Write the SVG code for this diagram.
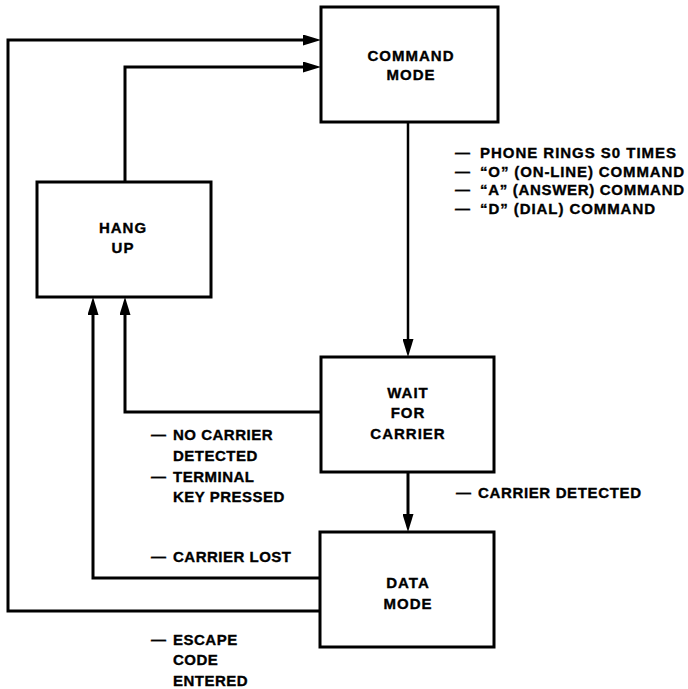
<svg xmlns="http://www.w3.org/2000/svg" width="688" height="689" viewBox="0 0 688 689">
<style>
.box{fill:#fff;stroke:#000;stroke-width:3}
.ln{fill:none;stroke:#000;stroke-width:3}
text{font-family:"Liberation Sans",Arial,Helvetica,sans-serif;font-weight:bold;font-size:15px;letter-spacing:1px;fill:#000;stroke:#000;stroke-width:0.35px}
.c{text-anchor:middle}
.l{letter-spacing:0.5px}
</style>
<defs>
<marker id="ah" viewBox="0 0 18 11" refX="8" refY="5.5" markerWidth="18" markerHeight="11" markerUnits="userSpaceOnUse" orient="auto">
<path d="M0,0 L18,5.5 L0,11 z" fill="#000"/>
</marker>
</defs>
<rect width="688" height="689" fill="#fff"/>
<g id="connectors">
<path class="ln" d="M320,611 H8 V40 H311" marker-end="url(#ah)"/>
<path class="ln" d="M125,182 V67 H311" marker-end="url(#ah)"/>
<path class="ln" d="M321,412 H125 V307" marker-end="url(#ah)"/>
<path class="ln" d="M320,578 H93 V307" marker-end="url(#ah)"/>
<path class="ln" style="stroke-width:2.5" d="M408,122 V347" marker-end="url(#ah)"/>
<path class="ln" d="M408,472 V522" marker-end="url(#ah)"/>
</g>
<g id="command-mode">
<rect class="box" x="321" y="7" width="177" height="115"/>
<text class="c" x="411" y="61">COMMAND</text>
<text class="c" x="411" y="80">MODE</text>
</g>
<g id="hang-up">
<rect class="box" x="37" y="182" width="174" height="115"/>
<text class="c" x="123" y="233">HANG</text>
<text class="c" x="123" y="253">UP</text>
</g>
<g id="wait-for-carrier">
<rect class="box" x="321" y="357" width="173" height="115"/>
<text class="c" x="408" y="398">WAIT</text>
<text class="c" x="408" y="418">FOR</text>
<text class="c" x="408" y="439">CARRIER</text>
</g>
<g id="data-mode">
<rect class="box" x="320" y="532" width="174" height="115"/>
<text class="c" x="408" y="588">DATA</text>
<text class="c" x="408" y="609">MODE</text>
</g>
<g id="labels">
<text x="455" y="158">—</text><text x="480" y="158" textLength="197" lengthAdjust="spacing">PHONE RINGS S0 TIMES</text>
<text x="455" y="177">—</text><text x="480" y="177" textLength="205" lengthAdjust="spacing">“O” (ON-LINE) COMMAND</text>
<text x="455" y="195">—</text><text x="480" y="195" textLength="205" lengthAdjust="spacing">“A” (ANSWER) COMMAND</text>
<text x="455" y="214">—</text><text x="480" y="214" textLength="176" lengthAdjust="spacing">“D” (DIAL) COMMAND</text>
<text x="456" y="498">—</text><text x="478" y="498" textLength="164" lengthAdjust="spacing">CARRIER DETECTED</text>
<text class="l" x="151" y="440">—</text><text class="l" x="173" y="440">NO CARRIER</text>
<text class="l" x="173" y="461">DETECTED</text>
<text class="l" x="151" y="482">—</text><text class="l" x="173" y="482">TERMINAL</text>
<text class="l" x="173" y="502">KEY PRESSED</text>
<text class="l" x="151" y="562">—</text><text class="l" x="173" y="562">CARRIER LOST</text>
<text class="l" x="151" y="645">—</text><text class="l" x="173" y="645">ESCAPE</text>
<text class="l" x="173" y="665">CODE</text>
<text class="l" x="173" y="686">ENTERED</text>
</g>
</svg>
